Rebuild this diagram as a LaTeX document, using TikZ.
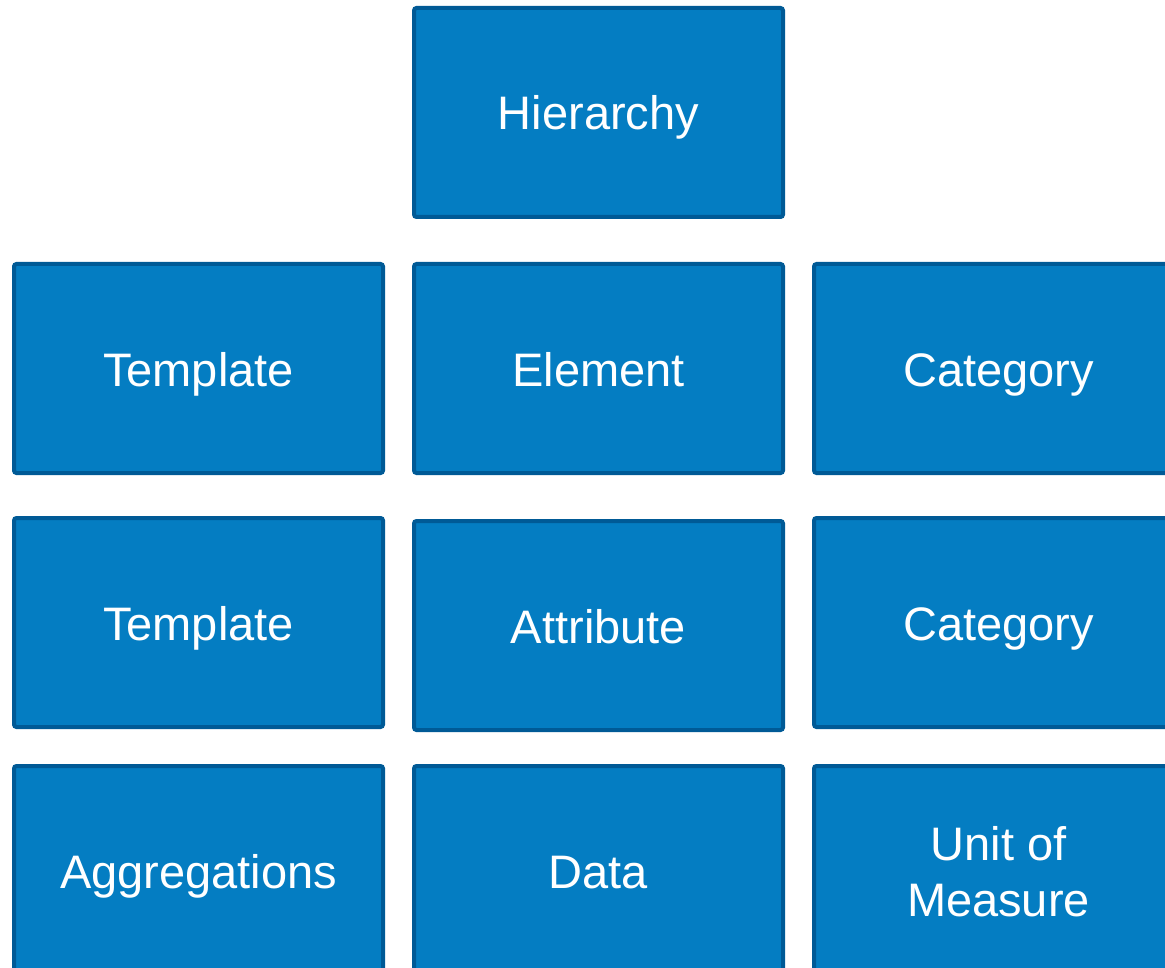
\documentclass[tikz,border=0pt]{standalone}
\usepackage{fontspec}
\setmainfont{Liberation Sans}
\definecolor{boxfill}{RGB}{4,125,194}
\definecolor{boxline}{RGB}{0,90,150}
\begin{document}
\begin{tikzpicture}[x=1pt,y=-1pt,
  cell/.style={draw=boxline,fill=boxfill,line width=4pt,rounded corners=2.5pt,
    minimum width=369pt,minimum height=209pt,inner sep=0pt,anchor=north west,
    text height=40pt,text depth=5pt,
    text=white,font=\fontsize{47}{56}\selectfont,align=center}]
\useasboundingbox (0,0) rectangle (1165,968);
\begin{scope}
\clip (0,0) rectangle (1165,968);
\node[cell] (hier) at (412,6) {Hierarchy};
\node[cell] (t1) at (12,262) {Template};
\node[cell] (el) at (412,262) {Element};
\node[cell] (c1) at (812,262) {Category};
\node[cell] (t2) at (12,516) {Template};
\node[cell] (at) at (412,519) {Attribute};
\node[cell] (c2) at (812,516) {Category};
\node[cell] (ag) at (12,764) {Aggregations};
\node[cell] (da) at (412,764) {Data};
\node[cell,text height=96pt] (um) at (812,764) {Unit of\\Measure};
\end{scope}
\end{tikzpicture}
\end{document}
